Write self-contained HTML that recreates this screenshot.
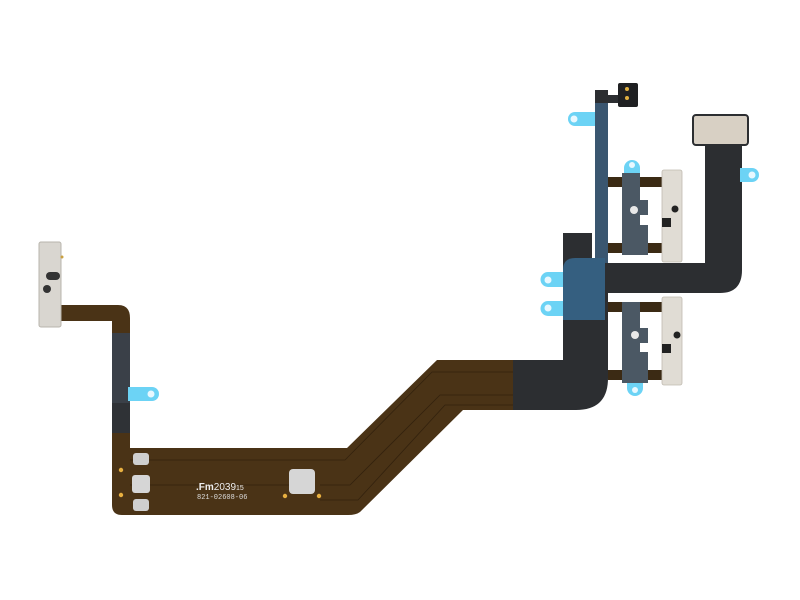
<!DOCTYPE html>
<html><head><meta charset="utf-8"><style>html,body{margin:0;padding:0;background:#fff}svg{display:block}</style></head>
<body>
<svg width="800" height="600" viewBox="0 0 800 600" xmlns="http://www.w3.org/2000/svg">
<rect width="800" height="600" fill="#fff"/>
<path d="M60 305 H118 Q130 305 130 318 V448 H347 L437 360 H530 V410 H463 L360 512 Q356 515 348 515 H122 Q112 515 112 505 V321 H60 Z" fill="#4a3316"/>
<rect x="112" y="333" width="18" height="70" fill="#3a4048"/>
<rect x="112" y="403" width="18" height="30" fill="#2f3236"/>
<path d="M128 387 H152 A7 7 0 0 1 152 401 H128 Z" fill="#6cd3f5"/>
<circle cx="151" cy="394" r="3.5" fill="#e8f8ff"/>
<rect x="39" y="242" width="22" height="85" rx="2" fill="#d9d6d0" stroke="#b8b4ac" stroke-width="1"/>
<rect x="46" y="272" width="14" height="8" rx="4" fill="#333"/>
<circle cx="47" cy="289" r="4" fill="#333"/>
<circle cx="62" cy="257" r="1.5" fill="#c9a040"/>
<g fill="none" stroke="#33220e" stroke-width="0.8">
<path d="M130 460 H345 L432 372 H520"/>
<path d="M130 485 H290 M320 485 H350 L440 395 H520"/>
<path d="M320 500 H358 L445 405 H520"/>
</g>
<rect x="133" y="453" width="16" height="12" rx="3" fill="#cfcfcf"/>
<rect x="132" y="475" width="18" height="18" rx="3" fill="#d6d6d6"/>
<rect x="133" y="499" width="16" height="12" rx="3" fill="#cfcfcf"/>
<rect x="289" y="469" width="26" height="25" rx="4" fill="#d6d6d6"/>
<g fill="#e8b040"><circle cx="121" cy="470" r="2.2"/><circle cx="121" cy="495" r="2.2"/><circle cx="285" cy="496" r="2.2"/><circle cx="319" cy="496" r="2.2"/></g>
<text x="196" y="490" font-family="Liberation Sans, sans-serif" font-size="10" fill="#eee" font-weight="bold">.Fm<tspan font-weight="normal">2039</tspan><tspan font-size="7" font-weight="normal">15</tspan></text>
<text x="197" y="499" font-family="Liberation Mono, monospace" font-size="7" fill="#ddd">821-02608-06</text>
<path d="M513 360 H563 V233 H592 V258 H608 V378 Q608 410 576 410 H513 Z" fill="#2c2e31"/>
<path d="M608 263 H705 V143 H742 V270 Q742 293 720 293 H608 Z" fill="#2c2e31"/>
<rect x="693" y="115" width="55" height="30" rx="3" fill="#d8d0c4" stroke="#2c2e31" stroke-width="2"/>
<path d="M740 168 H752 A7 7 0 0 1 752 182 H740 Z" fill="#6cd3f5"/><circle cx="752" cy="175" r="3.5" fill="#e8f8ff"/>
<rect x="595" y="90" width="13" height="175" fill="#2c2e31"/>
<rect x="595" y="103" width="13" height="160" fill="#3a5670"/>
<rect x="595" y="95" width="28" height="8" fill="#2c2e31"/>
<rect x="618" y="83" width="20" height="24" rx="2" fill="#1f2022"/>
<circle cx="627" cy="89" r="2" fill="#e0b040"/><circle cx="627" cy="98" r="2" fill="#e0b040"/>
<path d="M595 112 H575 A7 7 0 0 0 575 126 H595 Z" fill="#6cd3f5"/><circle cx="574" cy="119" r="3.5" fill="#e8f8ff"/>
<path d="M563 270 Q563 258 575 258 H605 V320 H563 Z" fill="#355f80"/>
<path d="M563 272 H548 A7 7 0 0 0 548 287 H563 Z" fill="#6cd3f5"/><circle cx="548" cy="280" r="3.5" fill="#e8f8ff"/>
<path d="M563 301 H548 A7 7 0 0 0 548 316 H563 Z" fill="#6cd3f5"/><circle cx="548" cy="308" r="3.5" fill="#e8f8ff"/>
<rect x="608" y="177" width="57" height="10" fill="#3b2a14"/>
<rect x="608" y="243" width="57" height="10" fill="#3b2a14"/>
<path d="M624 168 A8 8 0 0 1 640 168 V173 H624 Z" fill="#6cd3f5"/><circle cx="632" cy="165" r="3" fill="#e8f8ff"/>
<path d="M622 173 H640 V200 H648 V215 H640 V225 H648 V255 H622 Z" fill="#4b5864"/>
<circle cx="634" cy="210" r="4" fill="#e8e8e8"/>
<rect x="662" y="170" width="20" height="92" rx="2" fill="#e0dcd4" stroke="#c0bab0" stroke-width="0.8"/>
<circle cx="675" cy="209" r="3.5" fill="#222"/><rect x="662" y="218" width="9" height="9" fill="#222"/>
<rect x="608" y="302" width="57" height="10" fill="#3b2a14"/>
<rect x="608" y="370" width="57" height="10" fill="#3b2a14"/>
<path d="M622 302 H640 V328 H648 V343 H640 V352 H648 V383 H622 Z" fill="#4b5864"/>
<circle cx="635" cy="335" r="4" fill="#e8e8e8"/>
<path d="M627 383 H643 V388 A8 8 0 0 1 627 388 Z" fill="#6cd3f5"/><circle cx="635" cy="390" r="3" fill="#e8f8ff"/>
<rect x="662" y="297" width="20" height="88" rx="2" fill="#e0dcd4" stroke="#c0bab0" stroke-width="0.8"/>
<circle cx="677" cy="335" r="3.5" fill="#222"/><rect x="662" y="344" width="9" height="9" fill="#222"/>
</svg>
</body></html>
